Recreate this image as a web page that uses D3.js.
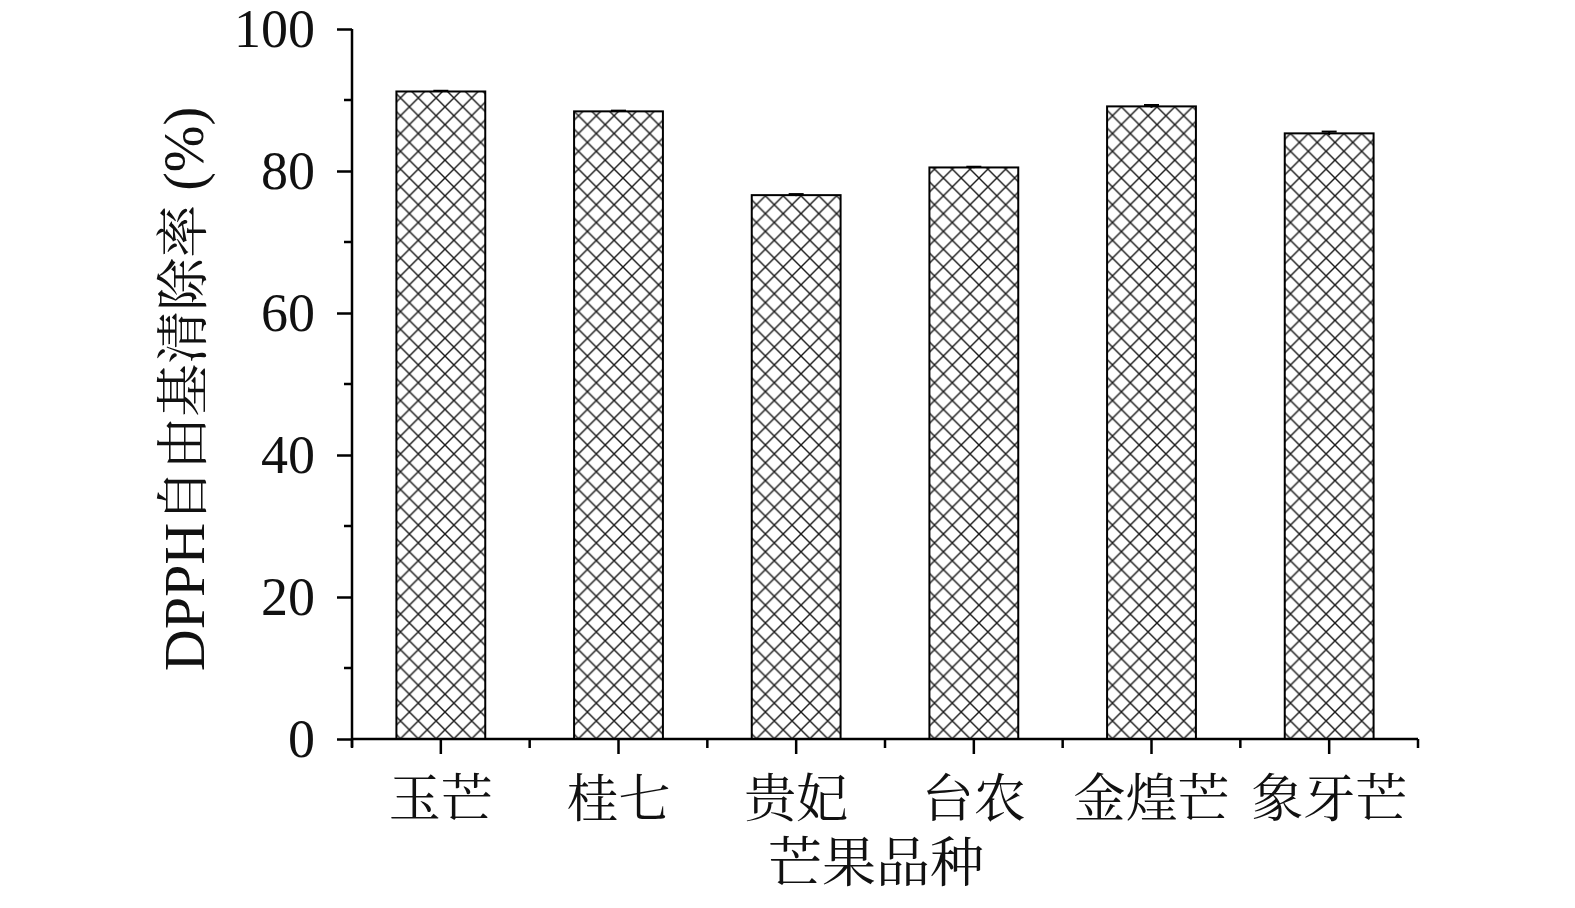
<!DOCTYPE html>
<html><head><meta charset="utf-8">
<script src="https://cdn.jsdelivr.net/npm/d3@7"></script>
<style>html,body{margin:0;padding:0;background:#fff;}svg{display:block;}</style>
</head><body>
<script>
const categories = ["玉芒","桂七","贵妃","台农","金煌芒","象牙芒"];
const values = [91.2, 88.4, 76.6, 80.5, 89.1, 85.3];
const errors = [0.1, 0.1, 0.15, 0.1, 0.2, 0.25];
const yTicks = [0,20,40,60,80,100];
const yMinorTicks = [10,30,50,70,90];
const xTitle = "芒果品种";
const yTitleLatin = "DPPH";
const yTitleCJK = "自由基清除率";
const yTitleUnit = " (%)";

const W = 1575, H = 908;
const m = {left:352, right:1418, top:29, bottom:739};
const serif = "'Liberation Serif','Times New Roman','Noto Serif CJK SC','Noto Sans CJK SC',serif";

const svg = d3.select("body").append("svg").attr("width",W).attr("height",H);
const defs = svg.append("defs");
const P = 17.8;
const pat = defs.append("pattern").attr("id","hatch").attr("patternUnits","userSpaceOnUse")
  .attr("width",P).attr("height",P).attr("x",0).attr("y",0);
pat.append("rect").attr("width",P).attr("height",P).attr("fill","#fff");
pat.append("path").attr("d",`M0,0L${P},${P}M${P},0L0,${P}`)
  .attr("stroke","#1a1a1a").attr("stroke-width",1.4).attr("fill","none");

const x = d3.scaleBand().domain(categories).range([m.left,m.right]).paddingInner(0.5).paddingOuter(0.25);
const y = d3.scaleLinear().domain([0,100]).range([m.bottom,m.top]);

// bars
svg.append("g").selectAll("rect").data(categories).join("rect")
  .attr("x",d=>x(d)).attr("width",x.bandwidth())
  .attr("y",(d,i)=>y(values[i])).attr("height",(d,i)=>y(0)-y(values[i]))
  .attr("fill","url(#hatch)").attr("stroke","#000").attr("stroke-width",2);

// error bars
const eb = svg.append("g").attr("stroke","#000").attr("stroke-width",2);
categories.forEach((c,i)=>{
  const cx = x(c)+x.bandwidth()/2;
  eb.append("line").attr("x1",cx).attr("x2",cx).attr("y1",y(values[i]+errors[i])).attr("y2",y(values[i]-errors[i]));
  eb.append("line").attr("x1",cx-7.5).attr("x2",cx+7.5).attr("y1",y(values[i]+errors[i])).attr("y2",y(values[i]+errors[i]));
});

// y axis
const yAx = svg.append("g").attr("transform",`translate(${m.left},0)`)
  .call(d3.axisLeft(y).tickValues(yTicks).tickSize(15).tickPadding(22).tickFormat(d3.format("d")));
yAx.select(".domain").attr("stroke-width",2.5).attr("d",`M0,${m.top}V${m.bottom+8}`);
yAx.selectAll(".tick line").attr("stroke-width",2.5);
yAx.selectAll("text").attr("font-family",serif).attr("font-size",54).attr("fill","#111").attr("dy","0.33em");
const yMin = svg.append("g").attr("transform",`translate(${m.left},0)`);
yMin.selectAll("line").data(yMinorTicks).join("line")
  .attr("x1",-8).attr("x2",0).attr("y1",d=>y(d)).attr("y2",d=>y(d)).attr("stroke","#000").attr("stroke-width",2.5);

// x axis
const xAx = svg.append("g").attr("transform",`translate(0,${m.bottom})`)
  .call(d3.axisBottom(x).tickSize(15).tickPadding(24));
xAx.select(".domain").attr("stroke-width",2.5).attr("d",`M${m.left},0H${m.right}`);
xAx.selectAll(".tick line").attr("stroke-width",2.5);
xAx.selectAll("text").attr("font-family",serif).attr("font-size",52).attr("fill","#111")
  .attr("y",0).attr("dy",null).attr("transform","translate(0,60)").attr("dominant-baseline","central");
const step = (m.right-m.left)/categories.length;
const bounds = d3.range(categories.length+1).map(i=>m.left+i*step);
svg.append("g").selectAll("line").data(bounds).join("line")
  .attr("x1",d=>d).attr("x2",d=>d).attr("y1",m.bottom).attr("y2",m.bottom+9)
  .attr("stroke","#000").attr("stroke-width",2.5);

// titles
svg.append("text").attr("x",876).attr("y",864).attr("text-anchor","middle")
  .attr("dominant-baseline","central").attr("font-family",serif).attr("font-size",54).attr("fill","#111").text(xTitle);
const yt = svg.append("text").attr("transform",`translate(184,389) rotate(-90)`).attr("text-anchor","middle")
  .attr("dominant-baseline","central").attr("font-family",serif).attr("font-size",53).attr("fill","#111");
yt.append("tspan").attr("font-size",58).text(yTitleLatin);
yt.append("tspan").text(yTitleCJK);
yt.append("tspan").attr("font-size",56).text(yTitleUnit);
</script>
</body></html>
